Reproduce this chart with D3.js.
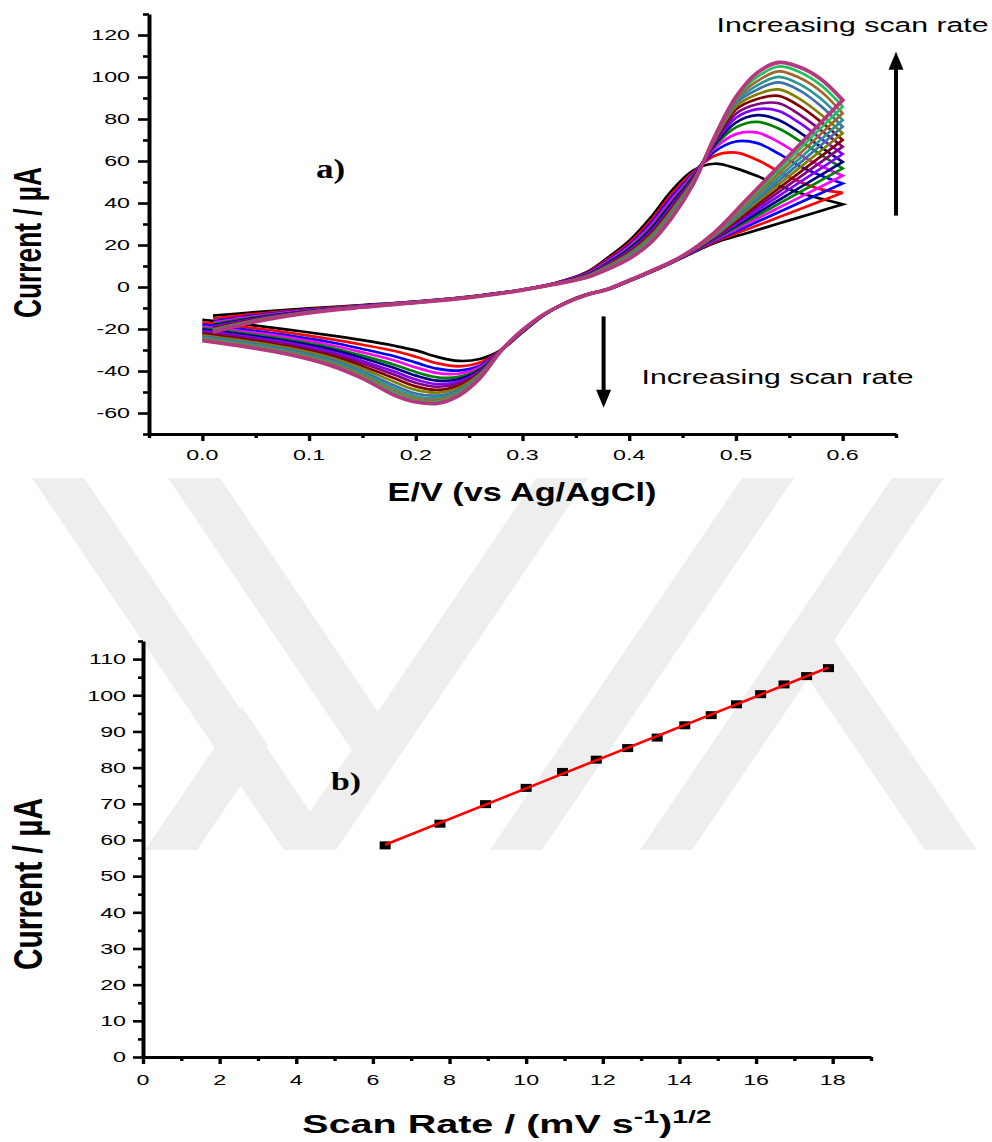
<!DOCTYPE html>
<html>
<head>
<meta charset="utf-8">
<script src="https://cdn.jsdelivr.net/npm/d3@7"></script>
<style>
  body { margin: 0; background: #fff; }
  svg { display: block; }
  text { fill: #000; }
</style>
</head>
<body>
<svg id="chart" width="992" height="1142"></svg>
<script>
// ---- Cyclic voltammograms (panel a) ----
// Potential grid of the anodic (forward) sweep, V vs Ag/AgCl
const potentialForward = [0.01, 0.05, 0.10, 0.15, 0.20, 0.25, 0.30, 0.33, 0.36, 0.38, 0.40,
                          0.42, 0.44, 0.46, 0.48, 0.50, 0.52, 0.54, 0.56, 0.58, 0.60];
// Potential grid of the cathodic (reverse) sweep
const potentialReverse = [0.60, 0.57, 0.54, 0.51, 0.48, 0.45, 0.42, 0.40, 0.38, 0.36, 0.34, 0.32,
                          0.30, 0.28, 0.26, 0.24, 0.22, 0.20, 0.18, 0.15, 0.12, 0.08, 0.04, 0.00];

// Scan rates, mV/s
const scanRates = [40, 60, 80, 100, 120, 140, 160, 180, 200, 220, 240, 260, 280, 300, 320];

const sweepColors = ["#000000", "#ff0000", "#0000ff", "#ff00ff", "#008000", "#000080", "#8000ff",
                     "#800080", "#800000", "#808000", "#3d72a4", "#2a9494", "#a0662a", "#20c060", "#b4387e"];

// Current (µA) on the forward sweep, one row per scan rate
const forwardCurrent = [
  [-13.6, -12.0, -10.2, -8.6, -6.9, -4.6, -1.2, 1.8, 7.0, 14.0, 22.0, 33.0, 46.0, 55.5, 58.7, 56.5, 52.8, 48.3, 44.8, 42.0, 39.4],
  [-15.0, -12.8, -10.6, -8.8, -7.0, -4.7, -1.2, 1.8, 6.7, 13.3, 21.0, 31.5, 44.4, 54.7, 62.5, 64.0, 60.5, 55.0, 50.0, 46.5, 44.9],
  [-16.3, -13.5, -10.9, -8.9, -7.0, -4.7, -1.3, 1.7, 6.4, 12.7, 20.0, 30.2, 43.0, 54.0, 64.5, 69.3, 68.5, 63.5, 57.5, 53.0, 49.3],
  [-17.0, -13.9, -11.1, -9.0, -7.1, -4.8, -1.3, 1.7, 6.2, 12.2, 19.3, 29.1, 41.8, 53.4, 66.0, 72.8, 73.5, 69.0, 62.8, 57.5, 53.0],
  [-17.7, -14.3, -11.3, -9.1, -7.1, -4.8, -1.3, 1.6, 6.0, 11.7, 18.5, 28.0, 40.6, 52.8, 67.0, 76.0, 78.6, 75.5, 69.5, 62.8, 56.5],
  [-18.3, -14.7, -11.5, -9.2, -7.2, -4.8, -1.3, 1.6, 5.8, 11.4, 17.9, 27.2, 39.8, 52.4, 67.8, 78.3, 81.8, 79.5, 73.5, 66.5, 59.6],
  [-18.9, -15.0, -11.6, -9.3, -7.2, -4.9, -1.4, 1.5, 5.6, 11.0, 17.3, 26.4, 38.9, 51.9, 68.5, 80.5, 84.7, 83.8, 78.0, 70.5, 63.3],
  [-19.4, -15.3, -11.7, -9.3, -7.2, -4.9, -1.4, 1.5, 5.5, 10.7, 16.8, 25.7, 38.1, 51.5, 69.0, 82.5, 87.0, 87.5, 82.0, 74.5, 66.8],
  [-19.8, -15.5, -11.8, -9.4, -7.3, -4.9, -1.4, 1.5, 5.3, 10.3, 16.3, 24.9, 37.2, 51.1, 69.5, 84.5, 89.5, 91.0, 86.0, 78.5, 70.0],
  [-20.2, -15.7, -11.9, -9.4, -7.3, -4.9, -1.4, 1.4, 5.2, 10.0, 15.8, 24.2, 36.5, 50.7, 70.0, 86.0, 91.8, 94.1, 89.5, 82.0, 73.2],
  [-20.6, -16.0, -12.0, -9.5, -7.3, -5.0, -1.4, 1.4, 5.0, 9.6, 15.2, 23.4, 35.6, 50.3, 70.4, 87.5, 94.0, 97.4, 93.5, 86.0, 76.3],
  [-20.9, -16.1, -12.1, -9.5, -7.3, -5.0, -1.5, 1.4, 4.9, 9.3, 14.7, 22.8, 34.9, 50.0, 70.8, 88.5, 96.0, 100.1, 96.5, 89.5, 79.5],
  [-21.1, -16.3, -12.2, -9.6, -7.4, -5.0, -1.5, 1.3, 4.7, 9.0, 14.3, 22.1, 34.2, 49.6, 71.0, 89.3, 98.0, 102.7, 99.5, 93.0, 82.7],
  [-21.3, -16.4, -12.2, -9.6, -7.4, -5.0, -1.5, 1.3, 4.6, 8.7, 13.9, 21.5, 33.6, 49.3, 71.3, 90.0, 100.0, 105.0, 102.3, 96.0, 85.9],
  [-21.5, -16.5, -12.3, -9.6, -7.4, -5.0, -1.5, 1.3, 4.5, 8.5, 13.5, 21.0, 33.0, 49.0, 71.5, 90.5, 102.0, 106.9, 104.6, 98.8, 89.0]
];

// Current (µA) on the reverse sweep, one row per scan rate
const reverseCurrent = [
  [39.4, 34.8, 30.2, 25.6, 21.0, 14.0, 7.0, 2.8, -1.2, -3.5, -7.5, -13.5, -21.5, -30.0, -34.3, -35.2, -33.3, -30.2, -28.0, -25.3, -23.0, -20.3, -17.8, -15.6],
  [44.9, 39.0, 33.2, 27.4, 21.5, 14.1, 7.0, 2.8, -1.2, -3.5, -7.5, -13.4, -21.4, -30.0, -36.0, -37.8, -36.3, -33.2, -30.5, -27.5, -24.8, -21.7, -19.1, -16.8],
  [49.3, 42.5, 35.6, 28.8, 22.0, 14.2, 7.1, 2.9, -1.2, -3.6, -7.6, -13.4, -21.3, -30.0, -37.5, -39.8, -38.9, -36.0, -33.0, -29.5, -26.3, -23.0, -20.3, -17.9],
  [53.0, 45.3, 37.7, 30.0, 22.3, 14.3, 7.1, 2.9, -1.1, -3.6, -7.6, -13.3, -21.2, -30.1, -38.2, -41.3, -41.0, -38.3, -35.0, -31.1, -27.6, -24.0, -21.2, -18.8],
  [56.5, 48.0, 39.6, 31.1, 22.7, 14.3, 7.2, 2.9, -1.1, -3.6, -7.6, -13.3, -21.1, -30.1, -39.0, -42.8, -43.0, -40.5, -37.0, -32.7, -28.8, -25.0, -22.1, -19.6],
  [59.6, 50.4, 41.3, 32.1, 23.0, 14.4, 7.2, 3.0, -1.1, -3.6, -7.6, -13.3, -21.1, -30.1, -39.5, -43.9, -44.6, -42.2, -38.6, -33.8, -29.7, -25.8, -22.8, -20.2],
  [63.3, 53.3, 43.3, 33.3, 23.3, 14.4, 7.2, 3.0, -1.1, -3.7, -7.7, -13.2, -21.0, -30.1, -40.0, -45.0, -46.2, -44.0, -40.3, -35.2, -30.8, -26.6, -23.5, -21.0],
  [66.8, 56.0, 45.2, 34.4, 23.7, 14.5, 7.3, 3.0, -1.1, -3.7, -7.7, -13.2, -20.9, -30.2, -40.5, -46.0, -47.5, -45.6, -41.8, -36.3, -31.7, -27.4, -24.2, -21.6],
  [70.0, 58.5, 47.0, 35.5, 24.0, 14.5, 7.3, 3.0, -1.0, -3.7, -7.7, -13.2, -20.9, -30.2, -41.0, -47.0, -49.0, -47.3, -43.5, -37.6, -32.7, -28.2, -25.0, -22.3],
  [73.2, 61.0, 48.8, 36.5, 24.3, 14.6, 7.3, 3.1, -1.0, -3.7, -7.7, -13.1, -20.8, -30.2, -41.5, -48.1, -50.3, -49.0, -45.2, -38.8, -33.6, -29.0, -25.7, -23.0],
  [76.3, 63.4, 50.5, 37.5, 24.6, 14.6, 7.4, 3.1, -1.0, -3.7, -7.7, -13.1, -20.7, -30.2, -42.0, -49.1, -51.7, -50.7, -46.9, -40.1, -34.6, -29.8, -26.4, -23.6],
  [79.5, 65.8, 52.2, 38.5, 24.9, 14.7, 7.4, 3.1, -1.0, -3.8, -7.8, -13.1, -20.7, -30.3, -42.5, -49.9, -52.8, -52.0, -48.3, -41.1, -35.4, -30.4, -27.0, -24.2],
  [82.7, 68.3, 54.0, 39.6, 25.2, 14.7, 7.4, 3.1, -1.0, -3.8, -7.8, -13.0, -20.6, -30.3, -42.9, -50.7, -53.8, -53.2, -49.6, -42.1, -36.2, -31.1, -27.6, -24.7],
  [85.9, 70.8, 55.7, 40.6, 25.6, 14.8, 7.5, 3.2, -1.0, -3.8, -7.8, -13.0, -20.6, -30.3, -43.2, -51.3, -54.7, -54.1, -50.6, -42.9, -36.8, -31.6, -28.0, -25.2],
  [89.0, 73.2, 57.4, 41.6, 26.0, 14.8, 7.5, 3.2, -1.0, -3.8, -7.8, -13.0, -20.5, -30.3, -43.5, -51.8, -55.4, -54.7, -51.5, -43.5, -37.3, -32.0, -28.4, -25.5]
];

// ---- Randles–Sevcik plot (panel b) ----
const sqrtScanRate = [6.32, 7.75, 8.94, 10.00, 10.95, 11.83, 12.65, 13.42, 14.14, 14.83, 15.49, 16.12, 16.73, 17.32, 17.89];
const anodicPeakCurrent = [58.5, 64.5, 69.9, 74.4, 78.8, 82.2, 85.4, 88.3, 91.7, 94.5, 97.5, 100.3, 103.0, 105.3, 107.5];

// Tick values
const topXTicks = [0, 0.1, 0.2, 0.3, 0.4, 0.5, 0.6];
const topXMinor = [-0.05, 0.05, 0.15, 0.25, 0.35, 0.45, 0.55, 0.65];
const topYTicks = [-60, -40, -20, 0, 20, 40, 60, 80, 100, 120];
const topYMinor = [-70, -50, -30, -10, 10, 30, 50, 70, 90, 110, 130];
const botXTicks = [0, 2, 4, 6, 8, 10, 12, 14, 16, 18];
const botXMinor = [1, 3, 5, 7, 9, 11, 13, 15, 17, 19];
const botYTicks = [0, 10, 20, 30, 40, 50, 60, 70, 80, 90, 100, 110];
const botYMinor = [5, 15, 25, 35, 45, 55, 65, 75, 85, 95, 105, 115];

const svg = d3.select("#chart");
const SX = 1.55; // horizontal stretch of lettering
const SANS = "'Liberation Sans', Arial, sans-serif";
const SERIF = "'Liberation Serif', 'Times New Roman', serif";

// ---- faint background emblem ----
const emblem = [
  [[32, 478], [84, 478], [336, 850], [284, 850]],
  [[284, 850], [336, 850], [588, 478], [536, 478]],
  [[168, 478], [220, 478], [382, 718], [356, 756]],
  [[145, 850], [197, 850], [268, 745], [242, 707]],
  [[490, 850], [542, 850], [794, 478], [742, 478]],
  [[640, 850], [692, 850], [944, 478], [892, 478]],
  [[782, 640], [834, 640], [977, 850], [925, 850]]
];
svg.append("g").selectAll("polygon").data(emblem).join("polygon")
  .attr("points", d => d.map(p => p.join(",")).join(" "))
  .attr("fill", "#eeeeee");

// helper: horizontally stretched text
function label(g, str, x, y, opts = {}) {
  return g.append("text")
    .attr("text-anchor", opts.anchor || "start")
    .style("font-family", opts.family || SANS)
    .style("font-size", (opts.size || 15) + "px")
    .style("font-weight", opts.weight || "normal")
    .attr("transform", `translate(${x},${y}) scale(${opts.sx || SX},1)`)
    .text(str);
}

// axis builder
function drawAxes(g, x, y, cfg) {
  const y0 = y.range()[0], x0 = x.range()[0];
  const xMajor = g.append("g").attr("transform", `translate(0,${y0})`)
    .call(d3.axisBottom(x).tickValues(cfg.xTicks).tickSize(cfg.xMajor).tickSizeOuter(0).tickFormat(""));
  const xMinor = g.append("g").attr("transform", `translate(0,${y0})`)
    .call(d3.axisBottom(x).tickValues(cfg.xMinor).tickSize(cfg.xMinorLen).tickSizeOuter(0).tickFormat(""));
  xMinor.select(".domain").remove();
  const yMajor = g.append("g").attr("transform", `translate(${x0},0)`)
    .call(d3.axisLeft(y).tickValues(cfg.yTicks).tickSize(cfg.yMajor).tickSizeOuter(0).tickFormat(""));
  const yMinor = g.append("g").attr("transform", `translate(${x0},0)`)
    .call(d3.axisLeft(y).tickValues(cfg.yMinor).tickSize(cfg.yMinorLen).tickSizeOuter(0).tickFormat(""));
  yMinor.select(".domain").remove();

  [xMajor, xMinor].forEach(a => a.selectAll(".tick line").attr("stroke", "#000").attr("stroke-width", 3.4));
  [yMajor, yMinor].forEach(a => a.selectAll(".tick line").attr("stroke", "#000").attr("stroke-width", 2.6));
  xMajor.select(".domain").attr("stroke", "#000").attr("stroke-width", 2.8);
  yMajor.select(".domain").attr("stroke", "#000").attr("stroke-width", 4);

  const lab = g.append("g");
  cfg.xTicks.forEach(v => label(lab, cfg.xFormat(v), x(v), y0 + cfg.xLabelOffset, { anchor: "middle" }));
  cfg.yTicks.forEach(v => label(lab, String(v), cfg.yLabelRight, y(v) + 5.3, { anchor: "end" }));
}

// ===== Panel a =====
const xA = d3.scaleLinear().domain([-0.05, 0.65]).range([149, 896]);
const yA = d3.scaleLinear().domain([-70, 130]).range([434, 14]);
const gA = svg.append("g");

const lineA = d3.line().x(d => xA(d[0])).y(d => yA(d[1])).curve(d3.curveCatmullRom.alpha(0.5));
const sweeps = scanRates.map((r, i) => ({
  rate: r,
  color: sweepColors[i],
  forward: potentialForward.map((e, j) => [e, forwardCurrent[i][j]]),
  reverse: potentialReverse.map((e, j) => [e, reverseCurrent[i][j]])
}));
gA.append("g").selectAll("path").data(sweeps).join("path")
  .attr("d", d => lineA(d.forward) + lineA(d.reverse).replace(/^M/, "L"))
  .attr("fill", "none")
  .attr("stroke", d => d.color)
  .attr("stroke-width", (d, i) => i === sweeps.length - 1 ? 3.8 : 2.7)
  .attr("stroke-linejoin", "miter");

drawAxes(gA, xA, yA, {
  xTicks: topXTicks, xMinor: topXMinor, yTicks: topYTicks, yMinor: topYMinor,
  xMajor: 7, xMinorLen: 4, yMajor: 11, yMinorLen: 6,
  xFormat: d3.format(".1f"), xLabelOffset: 26, yLabelRight: 130
});

// arrows showing the scan-rate trend
const arrows = [
  { e: 0.65, from: 34, to: 112 },
  { e: 0.376, from: -14, to: -57.5 }
];
arrows.forEach(a => {
  const x = xA(a.e), y0 = yA(a.from), y1 = yA(a.to);
  const dir = y1 < y0 ? 1 : -1;
  gA.append("line").attr("x1", x).attr("x2", x).attr("y1", y0).attr("y2", y1 + dir * 14)
    .attr("stroke", "#000").attr("stroke-width", 4);
  gA.append("polygon")
    .attr("points", `${x},${y1} ${x - 7.5},${y1 + dir * 18} ${x + 7.5},${y1 + dir * 18}`)
    .attr("fill", "#000");
});
label(gA, "Increasing scan rate", 716.5, 32.3, { size: 19.5 });
label(gA, "Increasing scan rate", 641.5, 384, { size: 19.5 });
label(gA, "a)", 316, 178, { size: 27, weight: "bold", family: SERIF, sx: 1.3 });

// axis titles
label(gA, "E/V (vs Ag/AgCl)", 522, 501, { anchor: "middle", size: 25, weight: "bold", sx: 1.37 });
gA.append("text")
  .attr("text-anchor", "middle")
  .style("font-family", SANS).style("font-size", "26.3px").style("font-weight", "bold")
  .attr("transform", `translate(40.5,242.5) scale(1.49,1) rotate(-90)`)
  .text("Current / µA");

// ===== Panel b =====
const xB = d3.scaleLinear().domain([0, 19]).range([143, 871]);
const yB = d3.scaleLinear().domain([0, 115]).range([1057, 641]);
const gB = svg.append("g");

drawAxes(gB, xB, yB, {
  xTicks: botXTicks, xMinor: botXMinor, yTicks: botYTicks, yMinor: botYMinor,
  xMajor: 7, xMinorLen: 4, yMajor: 10, yMinorLen: 5,
  xFormat: d3.format("d"), xLabelOffset: 28, yLabelRight: 126
});

// least-squares line through the peak currents
const n = sqrtScanRate.length;
const mx = d3.mean(sqrtScanRate), my = d3.mean(anodicPeakCurrent);
let sxy = 0, sxx = 0;
for (let i = 0; i < n; i++) {
  sxy += (sqrtScanRate[i] - mx) * (anodicPeakCurrent[i] - my);
  sxx += (sqrtScanRate[i] - mx) ** 2;
}
const slope = sxy / sxx, intercept = my - slope * mx;
const xFit = d3.extent(sqrtScanRate);

const pts = sqrtScanRate.map((v, i) => [v, anodicPeakCurrent[i]]);
gB.append("g").selectAll("rect").data(pts).join("rect")
  .attr("x", d => xB(d[0]) - 5.5).attr("y", d => yB(d[1]) - 4)
  .attr("width", 11).attr("height", 8).attr("fill", "#000");
gB.append("line")
  .attr("x1", xB(xFit[0])).attr("y1", yB(intercept + slope * xFit[0]))
  .attr("x2", xB(xFit[1])).attr("y2", yB(intercept + slope * xFit[1]))
  .attr("stroke", "#ff0000").attr("stroke-width", 2.6);

label(gB, "b)", 331, 790, { size: 26, weight: "bold", family: SERIF, sx: 1.3 });

gB.append("text")
  .attr("text-anchor", "middle")
  .style("font-family", SANS).style("font-size", "30px").style("font-weight", "bold")
  .attr("transform", `translate(42,884) scale(1.35,1) rotate(-90)`)
  .text("Current / µA");

const xt = gB.append("text").attr("text-anchor", "middle")
  .style("font-family", SANS).style("font-size", "25px").style("font-weight", "bold")
  .attr("transform", `translate(507,1133) scale(1.58,1)`);
xt.append("tspan").text("Scan Rate / (mV s");
xt.append("tspan").style("font-size", "18px").attr("dy", -10).text("-1");
xt.append("tspan").attr("dy", 10).text(")");
xt.append("tspan").style("font-size", "18px").attr("dy", -10).text("1/2");
</script>
</body>
</html>
